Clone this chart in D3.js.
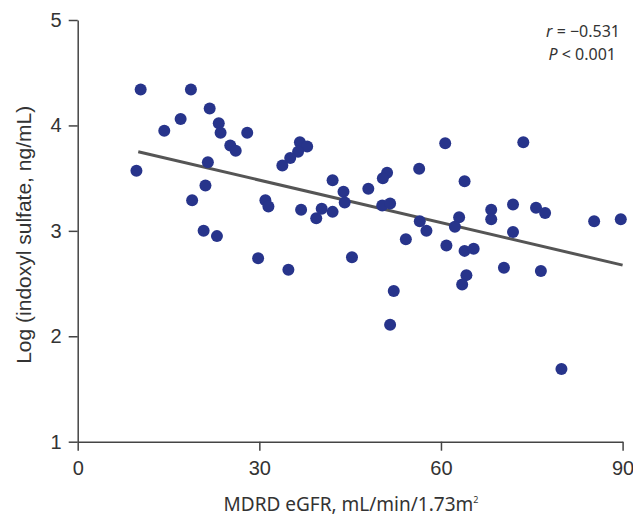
<!DOCTYPE html>
<html>
<head>
<meta charset="utf-8">
<script src="https://cdn.jsdelivr.net/npm/d3@7"></script>
<style>
  body { margin: 0; background: #fff; }
</style>
</head>
<body>
<div id="wrapper"></div>
<script>
// eGFR (x) and log indoxyl sulfate (y)
const egfr = [
  10.4, 18.7, 21.8, 17.0, 23.3, 14.3, 23.6, 28.0, 25.2, 26.1,
  21.5, 9.7, 21.1, 18.9, 31.0, 31.5, 20.8, 23.0, 29.8, 36.7,
  37.9, 36.4, 35.1, 33.8, 60.7, 56.4, 51.1, 50.4, 42.1, 48.0,
  43.9, 44.1, 36.9, 40.3, 42.1, 39.4, 50.3, 51.6, 56.5, 57.6,
  54.2, 60.9, 34.8, 45.3, 52.2, 51.6, 73.6, 63.9, 63.0, 62.3,
  68.3, 68.3, 71.9, 75.7, 77.2, 85.3, 89.7, 71.9, 63.9, 65.4,
  70.4, 76.5, 64.2, 63.5, 79.9
]
const logIs = [
  4.34, 4.34, 4.16, 4.06, 4.02, 3.95, 3.93, 3.93, 3.81, 3.76,
  3.65, 3.57, 3.43, 3.29, 3.29, 3.23, 3.00, 2.95, 2.74, 3.84,
  3.80, 3.75, 3.69, 3.62, 3.83, 3.59, 3.55, 3.50, 3.48, 3.40,
  3.37, 3.27, 3.20, 3.21, 3.18, 3.12, 3.24, 3.26, 3.09, 3.00,
  2.92, 2.86, 2.63, 2.75, 2.43, 2.11, 3.84, 3.47, 3.13, 3.04,
  3.20, 3.11, 3.25, 3.22, 3.17, 3.09, 3.11, 2.99, 2.81, 2.83,
  2.65, 2.62, 2.58, 2.49, 1.69
]

// regression line end points
const fitX = [10, 90]
const fitY = [3.75, 2.675]

const xTicks = [0, 30, 60, 90]
const yTicks = [1, 2, 3, 4, 5]

const data = egfr.map((x, i) => ({ x, y: logIs[i] }))
const fit = fitX.map((x, i) => ({ x, y: fitY[i] }))

const xAccessor = d => d.x
const yAccessor = d => d.y

const dimensions = {
  width: 633,
  height: 526,
  margin: { top: 20, right: 10.4, bottom: 84.3, left: 77.7 },
}
dimensions.boundedWidth = dimensions.width - dimensions.margin.left - dimensions.margin.right
dimensions.boundedHeight = dimensions.height - dimensions.margin.top - dimensions.margin.bottom

const wrapper = d3.select('#wrapper')
  .append('svg')
    .attr('width', dimensions.width)
    .attr('height', dimensions.height)

const bounds = wrapper.append('g')
    .attr('transform', `translate(${dimensions.margin.left},${dimensions.margin.top})`)

const xScale = d3.scaleLinear()
    .domain([0, 90])
    .range([0, dimensions.boundedWidth])

const yScale = d3.scaleLinear()
    .domain([1, 5])
    .range([dimensions.boundedHeight, 0])

// Draw peripherals

const axisColor = '#444'

const xAxis = bounds.append('g')
    .attr('transform', `translate(0,${dimensions.boundedHeight})`)
    .call(d3.axisBottom(xScale).tickValues(xTicks).tickFormat(d3.format('d'))
      .tickSize(9).tickSizeOuter(0).tickPadding(10))
xAxis.selectAll('path, line').attr('stroke', axisColor).attr('stroke-width', 1.5)
xAxis.selectAll('text')
    .attr('fill', '#333')
    .style('font-family', '"Liberation Sans", Arial, sans-serif')
    .style('font-size', '20px')

const yAxis = bounds.append('g')
    .call(d3.axisLeft(yScale).tickValues(yTicks).tickFormat(d3.format('d'))
      .tickSize(9).tickSizeOuter(0).tickPadding(7))
yAxis.selectAll('path, line').attr('stroke', axisColor).attr('stroke-width', 1.5)
yAxis.selectAll('text')
    .attr('fill', '#333')
    .style('font-family', '"Liberation Sans", Arial, sans-serif')
    .style('font-size', '20px')

wrapper.append('text')
    .attr('transform', `translate(31,${dimensions.margin.top + dimensions.boundedHeight / 2 + 4}) rotate(-90)`)
    .attr('text-anchor', 'middle')
    .attr('fill', '#333')
    .style('font-family', '"Liberation Sans", Arial, sans-serif')
    .style('font-size', '21px')
    .text('Log (indoxyl sulfate, ng/mL)')

const xLabel = wrapper.append('text')
    .attr('x', 351)
    .attr('y', 511)
    .attr('text-anchor', 'middle')
    .attr('fill', '#333')
    .style('font-family', '"Noto Sans", sans-serif')
    .style('font-size', '19px')
xLabel.append('tspan').text('MDRD eGFR, mL/min/1.73m')
xLabel.append('tspan').attr('dy', -8).style('font-size', '9px').text('2')

// Draw data

const lineGenerator = d3.line()
    .x(d => xScale(xAccessor(d)))
    .y(d => yScale(yAccessor(d)))

bounds.append('path')
    .attr('d', lineGenerator(fit))
    .attr('fill', 'none')
    .attr('stroke', '#555')
    .attr('stroke-width', 3)

bounds.append('g')
  .selectAll('circle')
  .data(data)
  .join('circle')
    .attr('cx', d => xScale(xAccessor(d)))
    .attr('cy', d => yScale(yAccessor(d)))
    .attr('r', 6)
    .attr('fill', '#27348b')

// r / P annotation
const stats = wrapper.append('g')
    .attr('fill', '#333')
    .style('font-family', '"Noto Sans", sans-serif')
    .style('font-size', '16px')
    .attr('text-anchor', 'end')

const rText = stats.append('text').attr('x', 620).attr('y', 37)
rText.append('tspan').style('font-style', 'italic').text('r')
rText.append('tspan').text(' = \u22120.531')

const pText = stats.append('text').attr('x', 616).attr('y', 60)
pText.append('tspan').style('font-style', 'italic').text('P')
pText.append('tspan').text(' < 0.001')
</script>
</body>
</html>
